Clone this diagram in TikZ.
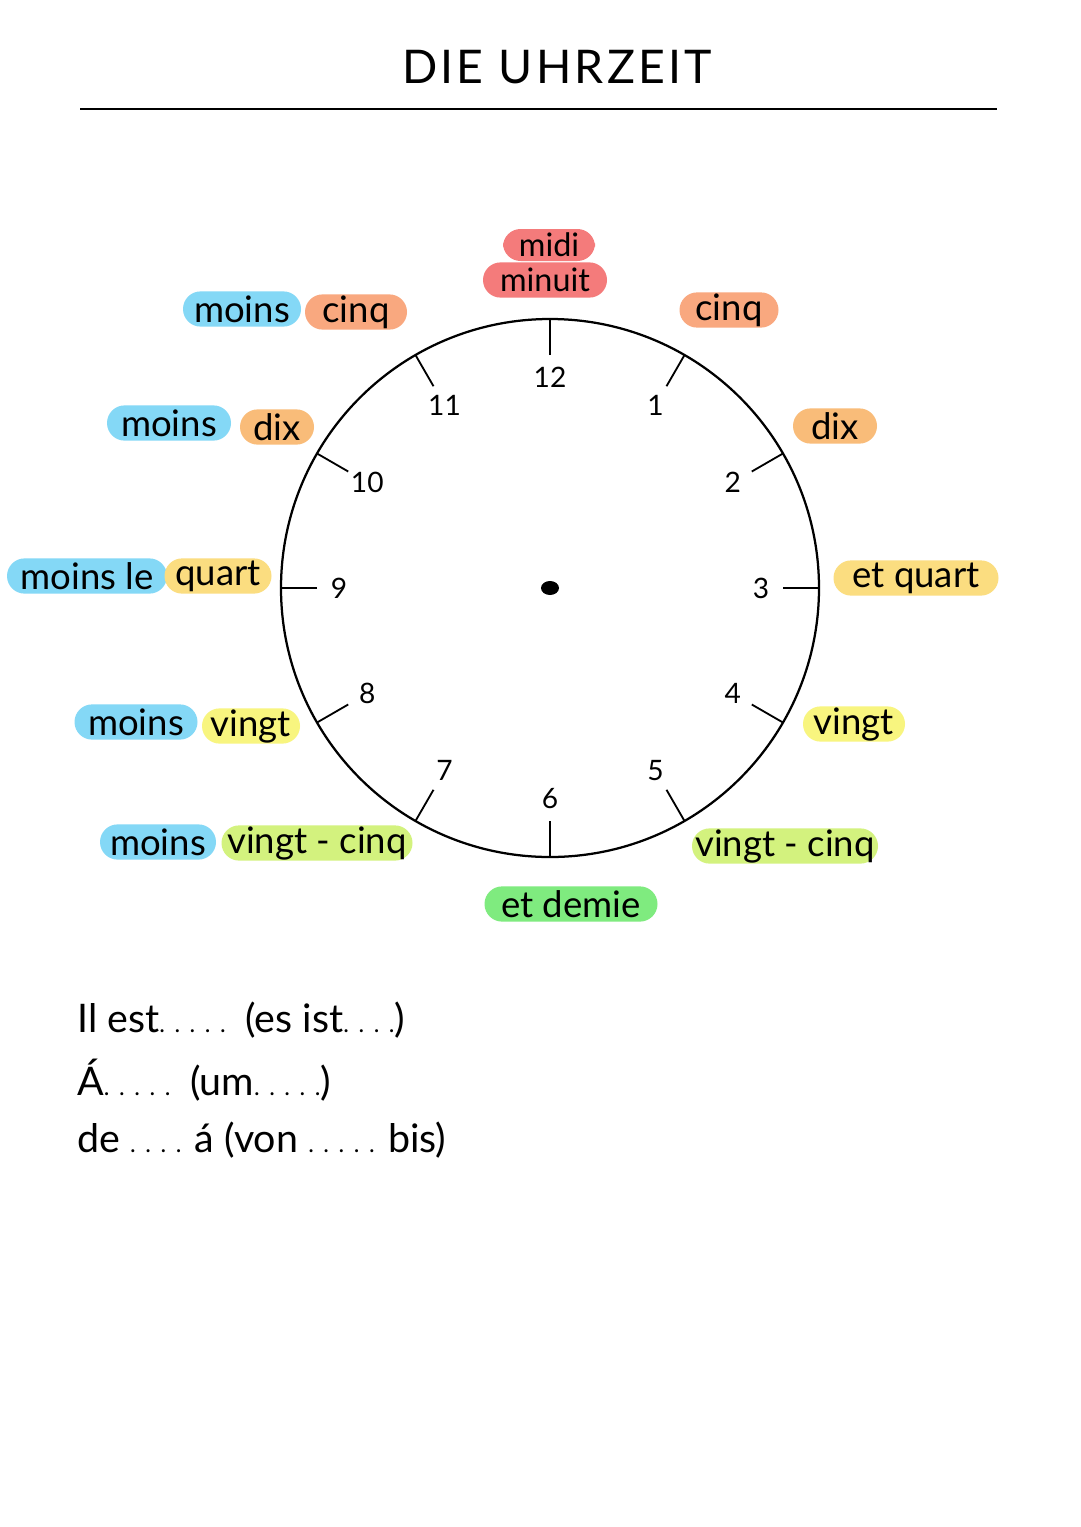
\documentclass[tikz,border=0pt]{standalone}
\usepackage{fontspec}
\setmainfont{Lato}
\usetikzlibrary{positioning}
\definecolor{blau}{HTML}{84D8F6}
\definecolor{rot}{HTML}{F47B7B}
\definecolor{lachs}{HTML}{F9A87F}
\definecolor{orange}{HTML}{F9BC79}
\definecolor{gelb}{HTML}{FBDD80}
\definecolor{hellgelb}{HTML}{F8F57F}
\definecolor{limette}{HTML}{D3F27E}
\definecolor{gruen}{HTML}{7FEB7F}
\newcommand{\pkt}[1]{{\fontsize{17}{17}\selectfont\addfontfeatures{LetterSpace=40}#1}}

\begin{document}
\begin{tikzpicture}[x=0.025cm,y=-0.025cm,
  pill/.style={rounded corners=0.44cm,minimum height=0.88cm,inner sep=0pt,font=\fontsize{26}{30}\selectfont},
  ziffer/.style={font=\fontsize{20}{24}\selectfont,inner sep=0pt},
  satz/.style={anchor=west,inner sep=0pt,font=\fontsize{28}{32}\selectfont},
  tick/.style={line width=1.3pt}]
\useasboundingbox[fill=white] (0,0) rectangle (1080,1527);
% Titel
\node[font=\fontsize{33}{40}\selectfont\addfontfeatures{LetterSpace=7}] (titel) at (557,67) {DIE UHRZEIT};
\draw[line width=1.4pt] (80,109) -- (997,109);
% Zifferblatt
\coordinate (mitte) at (550,588);
\draw[line width=1.6pt] (mitte) circle[radius=269];
\fill (mitte) ellipse[x radius=9, y radius=7];
\foreach \h in {1,...,12} {
  \pgfmathsetmacro{\a}{30*\h-90}
  \draw[tick] (mitte) ++(\a:233) -- ++(\a:36);
  \node[ziffer] (z\h) at ([shift={(\a:211)}]mitte) {\h};
}
% Beschriftungen
\node[pill,fill=rot,minimum width=92*0.025cm,minimum height=0.8cm,font=\fontsize{23}{26}\selectfont] (midi) at (549,245) {midi};
\node[pill,fill=rot,minimum width=124*0.025cm,font=\fontsize{23}{26}\selectfont] (minuit) at (545,280) {minuit};
\foreach \n/\x/\y/\w/\c/\t in {
  m5/242/309/118/blau/moins, c55/356/312/102/lachs/cinq,
  m10/169/423/124/blau/moins, d50/277/427/74/orange/dix,
  m15/87/576/160/blau/moins le, q45/218/576/107/gelb/quart,
  m20/136/722/123/blau/moins, v40/251/726/98/hellgelb/vingt,
  m25/158/842/116/blau/moins, v35/317/843/191/limette/vingt - cinq,
  c5/729/310/99/lachs/cinq, d10/835/426/84/orange/dix,
  q15/916/578/165/gelb/et quart, v20/854/724/102/hellgelb/vingt,
  v25/785/846/186/limette/vingt - cinq, d30/571/904/173/gruen/et demie}
  \node[pill,fill=\c,minimum width=\w*0.025cm] (\n) at (\x,\y) {\t};
% Saetze
\node[satz] (s1) at (77,1020) {Il est\pkt{.....}\enspace(es ist\pkt{....})};
\node[satz] (s2) at (77,1080) {Á\pkt{.....}\enspace(um\pkt{.....})};
\node[satz] (s3) at (77,1140) {de \pkt{....} á (von \pkt{.....} bis)};
\end{tikzpicture}
\end{document}
